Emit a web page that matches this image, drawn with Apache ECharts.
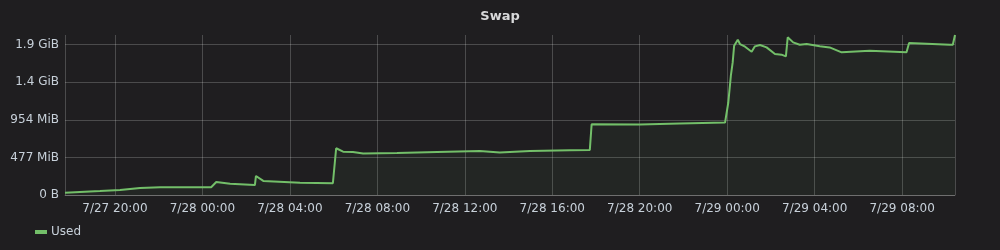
<!DOCTYPE html>
<html>
<head>
<meta charset="utf-8">
<script src="https://cdn.jsdelivr.net/npm/echarts@6/dist/echarts.min.js"></script>
<style>
html,body{margin:0;padding:0;background:#1f1e20;}
#c{width:1000px;height:250px;}
</style>
</head>
<body>
<div id="c"></div>
<script>
// Time stamps (local time) and swap used in MB (1e6 bytes)
const times = [
  '2024-07-27 17:43','2024-07-27 19:19','2024-07-27 20:14','2024-07-27 21:09','2024-07-27 22:04',
  '2024-07-27 23:54','2024-07-28 00:24','2024-07-28 00:29','2024-07-28 00:38','2024-07-28 01:16',
  '2024-07-28 02:24','2024-07-28 02:27','2024-07-28 02:47','2024-07-28 04:28','2024-07-28 05:58',
  '2024-07-28 06:07','2024-07-28 06:26','2024-07-28 06:53','2024-07-28 07:21','2024-07-28 08:54',
  '2024-07-28 10:44','2024-07-28 12:41','2024-07-28 13:36','2024-07-28 14:59','2024-07-28 16:48',
  '2024-07-28 17:43','2024-07-28 17:48','2024-07-28 20:00','2024-07-28 21:50','2024-07-28 23:54',
  '2024-07-29 00:03','2024-07-29 00:10','2024-07-29 00:15','2024-07-29 00:19','2024-07-29 00:29',
  '2024-07-29 00:35','2024-07-29 00:49','2024-07-29 01:07','2024-07-29 01:16','2024-07-29 01:30',
  '2024-07-29 01:48','2024-07-29 02:11','2024-07-29 02:29','2024-07-29 02:41','2024-07-29 02:46',
  '2024-07-29 03:01','2024-07-29 03:19','2024-07-29 03:38','2024-07-29 04:14','2024-07-29 04:41',
  '2024-07-29 05:14','2024-07-29 06:31','2024-07-29 08:12','2024-07-29 08:19','2024-07-29 10:11',
  '2024-07-29 10:19','2024-07-29 10:25'
];
const usedMB = [
  31, 53, 67, 93, 102,
  102, 104, 130, 173, 150,
  133, 253, 187, 164, 156,
  622, 577, 573, 551, 560,
  573, 587, 564, 587, 596,
  600, 942, 938, 951, 964,
  1231, 1587, 1764, 1987, 2067,
  2009, 1973, 1907, 1978, 1996,
  1964, 1876, 1867, 1844, 2098,
  2031, 2000, 2009, 1978, 1964,
  1898, 1920, 1898, 2022, 2000,
  2000, 2129
];
const seriesName = 'Used';
const chartTitle = 'Swap';

function fmtBytes(mb) {
  const b = mb * 1e6;
  if (b === 0) return '0 B';
  if (b >= 1073741824) return (b / 1073741824).toFixed(1) + ' GiB';
  return Math.round(b / 1048576) + ' MiB';
}
function pad(n){return n<10?'0'+n:''+n;}

const chart = echarts.init(document.getElementById('c'));
const txt = '#c7d0d9';
const grid = 'rgba(255,255,255,0.2)';
chart.setOption({
  backgroundColor: '#1f1e20',
  animation: false,
  title: {
    text: chartTitle, left: 'center', top: 5,
    textStyle: {color: '#d8d9da', fontSize: 13, fontWeight: 'bold', fontFamily: 'DejaVu Sans'}
  },
  legend: {
    left: 30, bottom: 7, itemWidth: 12, itemHeight: 4, itemGap: 6,
    icon: 'rect',
    textStyle: {color: txt, fontSize: 12, fontFamily: 'DejaVu Sans', padding: [0,0,0,-1]},
    data: [seriesName]
  },
  grid: {left: 65, right: 45, top: 35, bottom: 55},
  xAxis: {
    type: 'time',
    min: 'dataMin', max: 'dataMax',
    minInterval: 4*3600*1000, maxInterval: 4*3600*1000,
    axisLine: {show: true, lineStyle: {color: grid}},
    axisTick: {show: false},
    splitLine: {show: true, lineStyle: {color: grid, width: 1}},
    axisLabel: {
      color: txt, fontSize: 12, fontFamily: 'DejaVu Sans', margin: 8,
      hideOverlap: false,
      formatter: function(v){
        const d = new Date(v);
        return (d.getMonth()+1) + '/' + d.getDate() + ' ' + pad(d.getHours()) + ':' + pad(d.getMinutes());
      }
    }
  },
  yAxis: {
    type: 'value', min: 0, max: 'dataMax', interval: 500,
    axisLine: {show: false},
    axisTick: {show: false},
    splitLine: {show: true, showMaxLine: false, lineStyle: {color: grid, width: 1}},
    axisLabel: {
      color: txt, fontSize: 12, fontFamily: 'DejaVu Sans', margin: 6, showMaxLabel: false,
      formatter: function(v){ return (v % 500 === 0) ? fmtBytes(v) : ''; }
    }
  },
  series: [{
    name: seriesName, type: 'line', showSymbol: false, symbol: 'none',
    data: times.map((t,i)=>[t, usedMB[i]]),
    lineStyle: {color: '#73bf69', width: 2},
    itemStyle: {color: '#73bf69'},
    areaStyle: {color: 'rgba(115,191,105,0.08)'}
  }]
});
</script>
</body>
</html>
